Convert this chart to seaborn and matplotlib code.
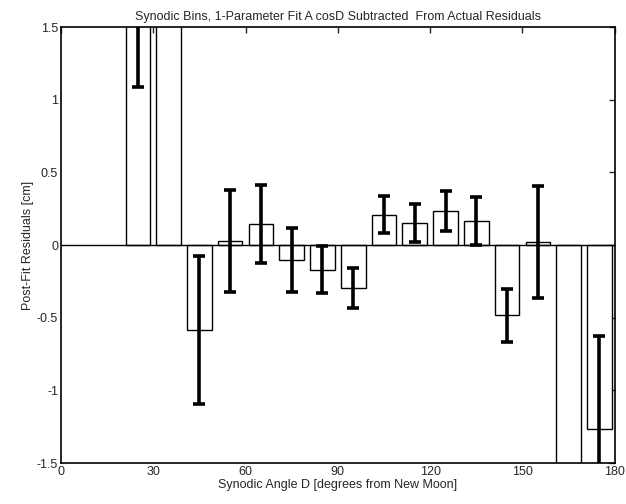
import numpy as np
import pandas as pd
import matplotlib
matplotlib.use('Agg')
import matplotlib.pyplot as plt
import seaborn as sns

# bin centres (degrees) and binned post-fit residuals (cm)
bin_center = [25, 35, 45, 55, 65, 75, 85, 95, 105, 115, 125, 135, 145, 155, 165, 175]
residual = [1.80, 2.50, -0.585, 0.03, 0.146, -0.10, -0.168, -0.293, 0.208, 0.15,
            0.236, 0.166, -0.484, 0.022, -2.50, -1.268]
sigma = [0.71, 0.60, 0.51, 0.35, 0.27, 0.22, 0.16, 0.137, 0.128, 0.13,
         0.136, 0.167, 0.183, 0.384, 0.50, 0.64]

df = pd.DataFrame({'D': bin_center, 'res': residual, 'err': sigma})

sns.set_style('white')
plt.rcParams['font.family'] = ['Liberation Sans', 'DejaVu Sans']

fig = plt.figure(figsize=(6.26, 5.04), dpi=100)
ax = fig.add_axes([0.0974, 0.0813, 0.8846, 0.8647])

sns.barplot(data=df, x='D', y='res', native_scale=True, width=0.8,
            color='white', edgecolor='black', linewidth=1.0, errorbar=None, ax=ax)
ax.errorbar(df['D'], df['res'], yerr=df['err'], fmt='none', ecolor='black',
            elinewidth=2.6, capsize=4, capthick=2.6)
ax.axhline(0, color='black', linewidth=1.0)

ax.set_xlim(0, 180)
ax.set_ylim(-1.5, 1.5)
ax.set_xticks([0, 30, 60, 90, 120, 150, 180])
ax.set_yticks([-1.5, -1, -0.5, 0, 0.5, 1, 1.5])
ax.set_yticklabels(['-1.5', '-1', '-0.5', '0', '0.5', '1', '1.5'])
ax.tick_params(direction='in', length=4, width=1, top=True, right=True,
               labelsize=9, pad=2)
for s in ax.spines.values():
    s.set_visible(True)
    s.set_color('black')
    s.set_linewidth(1.2)

ax.set_title('Synodic Bins, 1-Parameter Fit A cosD Subtracted  From Actual Residuals',
             fontsize=9, pad=5)
ax.set_xlabel('Synodic Angle D [degrees from New Moon]', fontsize=9, labelpad=1)
ax.set_ylabel('Post-Fit Residuals [cm]', fontsize=9, labelpad=2)

fig.savefig('out.png', dpi=100)
